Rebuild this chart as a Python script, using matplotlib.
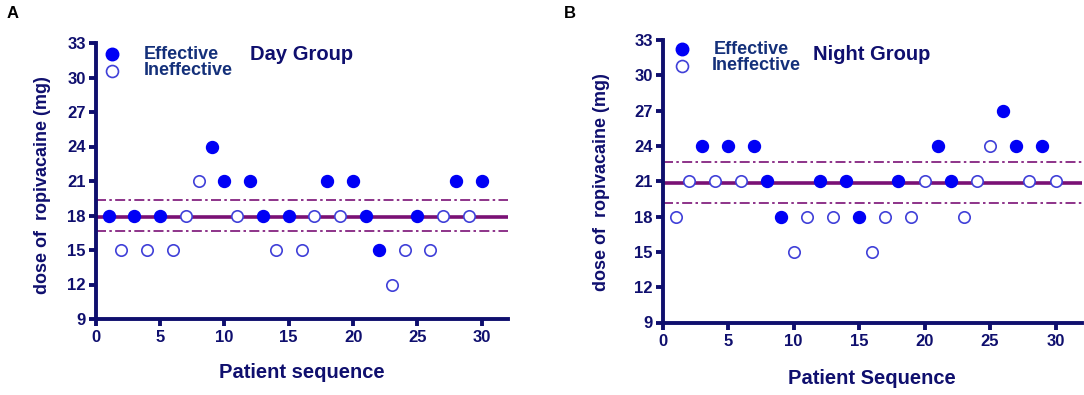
import matplotlib
matplotlib.use("Agg")
import matplotlib.pyplot as plt
import numpy as np

plt.rcParams['font.family'] = ['Liberation Sans', 'DejaVu Sans']

# ---------------- data ----------------
patients = list(range(1, 31))

day_dose = [18, 15, 18, 15, 18, 15, 18, 21, 24, 21,
            18, 21, 18, 15, 18, 15, 18, 21, 18, 21,
            18, 15, 12, 15, 18, 15, 18, 21, 18, 21]
day_effective = [1, 0, 1, 0, 1, 0, 0, 0, 1, 1,
                 0, 1, 1, 0, 1, 0, 0, 1, 0, 1,
                 1, 1, 0, 0, 1, 0, 0, 1, 0, 1]

night_dose = [18, 21, 24, 21, 24, 21, 24, 21, 18, 15,
              18, 21, 18, 21, 18, 15, 18, 21, 18, 21,
              24, 21, 18, 21, 24, 27, 24, 21, 24, 21]
night_effective = [0, 0, 1, 0, 1, 0, 1, 1, 1, 0,
                   0, 1, 0, 1, 1, 0, 0, 1, 0, 0,
                   1, 1, 0, 0, 0, 1, 1, 0, 1, 0]

day_ed50, day_ci = 17.9, (16.65, 19.35)
night_ed50, night_ci = 20.83, (19.17, 22.66)

y_ticks = [9, 12, 15, 18, 21, 24, 27, 30, 33]
x_ticks = [0, 5, 10, 15, 20, 25, 30]

NAVY = '#0f0f6e'
BLUE = '#0000f5'
HOLLOW = '#4040d8'
PURPLE = '#7a1075'

fig = plt.figure(figsize=(10.84, 3.95), dpi=100)

axA = fig.add_axes([95.7 / 1084, (395 - 319) / 395, 411.8 / 1084, 276 / 395])
axB = fig.add_axes([662.7 / 1084, (395 - 322.5) / 395, 419 / 1084, 282.5 / 395])


def draw(ax, dose, eff, ed50, ci, title, leg):
    x = np.array(patients)
    d = np.array(dose)
    e = np.array(eff).astype(bool)
    ax.axhline(ed50, color=PURPLE, lw=2.6, zorder=1)
    for c in ci:
        ax.axhline(c, color=PURPLE, lw=1.2, ls=(0, (6, 2, 1.5, 2)), zorder=1)
    ax.plot(x[e], d[e], 'o', ms=8.6, color=BLUE, mec=BLUE, zorder=3)
    ax.plot(x[~e], d[~e], 'o', ms=8.2, mfc='white', mec=HOLLOW, mew=1.2, zorder=3)
    ax.set_xlim(0, 32)
    ax.set_ylim(9, 33)
    ax.set_xticks(x_ticks)
    ax.set_yticks(y_ticks)
    for s in ['top', 'right']:
        ax.spines[s].set_visible(False)
    for s in ['left', 'bottom']:
        ax.spines[s].set_color(NAVY)
        ax.spines[s].set_linewidth(2.8)
    ax.tick_params(axis='both', colors=NAVY, length=5, width=2.8, labelsize=12,
                   pad=2)
    for lab in ax.get_xticklabels() + ax.get_yticklabels():
        lab.set_fontweight('bold')
        lab.set_color(NAVY)
    ax.tick_params(axis='x', pad=3)
    # legend
    (mx, my1, my2, tx1, tx2, ty1, ty2, gx, gy) = leg
    ax.plot([mx], [my1], 'o', ms=9, color=BLUE, transform=ax.transAxes, clip_on=False)
    ax.plot([mx], [my2], 'o', ms=8.6, mfc='white', mec=HOLLOW, mew=1.2,
            transform=ax.transAxes, clip_on=False)
    ax.text(tx1, ty1, 'Effective', transform=ax.transAxes, fontsize=13,
            fontweight='bold', color='#14307a', va='center', ha='left')
    ax.text(tx2, ty2, 'Ineffective', transform=ax.transAxes, fontsize=13,
            fontweight='bold', color='#14307a', va='center', ha='left')
    ax.text(gx, gy, title, transform=ax.transAxes, fontsize=14.5,
            fontweight='bold', color=NAVY, va='center', ha='left')


draw(axA, day_dose, day_effective, day_ed50, day_ci, 'Day Group',
     (0.039, 0.960, 0.900, 0.1156, 0.1156, 0.960, 0.899, 0.375, 0.960))
draw(axB, night_dose, night_effective, night_ed50, night_ci, 'Night Group',
     (0.0453, 0.968, 0.909, 0.1208, 0.117, 0.968, 0.908, 0.358, 0.947))

# axis labels
fig.text(43 / 1084, (395 - 185) / 395, 'dose of  ropivacaine (mg)', rotation=90,
         fontsize=13, fontweight='bold', color=NAVY, ha='center', va='center')
fig.text(602 / 1084, (395 - 182) / 395, 'dose of  ropivacaine (mg)', rotation=90,
         fontsize=13, fontweight='bold', color=NAVY, ha='center', va='center')
fig.text(301.7 / 1084, (395 - 373) / 395, 'Patient sequence', fontsize=14.5,
         fontweight='bold', color=NAVY, ha='center', va='center')
fig.text(872 / 1084, (395 - 378) / 395, 'Patient Sequence', fontsize=14.5,
         fontweight='bold', color=NAVY, ha='center', va='center')

# panel letters
fig.text(13 / 1084, (395 - 14) / 395, 'A', fontsize=12, fontweight='bold',
         color='black', ha='center', va='center')
fig.text(570 / 1084, (395 - 14) / 395, 'B', fontsize=12, fontweight='bold',
         color='black', ha='center', va='center')

fig.savefig('out.png', dpi=100)
